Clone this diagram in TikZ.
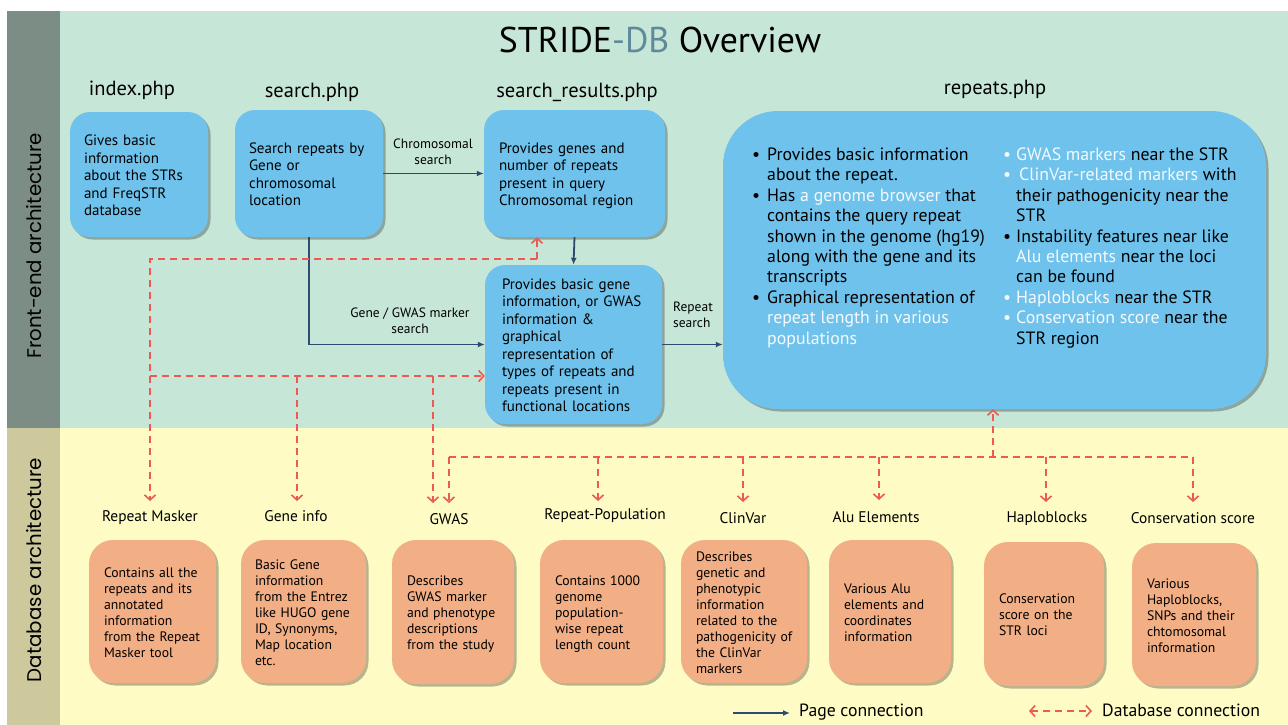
\documentclass[tikz,border=0pt]{standalone}
\usepackage{fontspec}
\setmainfont{PT Sans}
\newfontfamily\sidefont{Poppins}
\usetikzlibrary{arrows.meta,shadows}
\definecolor{bggreen}{HTML}{C6E6D7}
\definecolor{bgyellow}{HTML}{FEFCC4}
\definecolor{sidegreen}{HTML}{7C8D86}
\definecolor{sideyellow}{HTML}{CDC99D}
\definecolor{boxblue}{HTML}{6FC2EC}
\definecolor{boxorange}{HTML}{F2AE84}
\definecolor{navy}{HTML}{2C4B6F}
\definecolor{dbred}{HTML}{EC5A56}
\definecolor{dbcol}{HTML}{5E8A9A}
\definecolor{hl}{HTML}{F4FAFE}
\newcommand\lines[1]{\raisebox{-2.5pt}[\height][\depth]{\begin{tabular}{@{}l@{}}#1\end{tabular}}}
\tikzset{
  shadowed/.style={drop shadow={shadow xshift=2.5pt,shadow yshift=-2.5pt,fill=black,opacity=0.28}},
  bluebox/.style={fill=boxblue, rounded corners=20pt, align=left, inner xsep=14pt, inner ysep=0pt,
     font=\fontsize{15}{17.5}\selectfont, shadowed},
  orangebox/.style={fill=boxorange, rounded corners=24pt, align=left, inner xsep=15pt, inner ysep=0pt,
     font=\fontsize{13.7}{16}\selectfont, shadowed},
  pagehead/.style={font=\fontsize{20.5}{24}\selectfont, inner sep=0pt},
  dbhead/.style={font=\fontsize{15.4}{18}\selectfont, inner sep=0pt},
  conlabel/.style={font=\fontsize{13.5}{15.5}\selectfont, align=center, inner sep=0pt},
  pagearrow/.style={draw=navy, line width=1.8pt, -{Latex[length=7pt,width=6pt]}},
  dbline/.style={draw=dbred, line width=1.6pt, dash pattern=on 7pt off 5pt},
  dbarrow/.style={dbline, -{Straight Barb[length=5pt,width=11pt,line width=1.6pt]}},
  sidelabel/.style={font=\sidefont\fontsize{19.8}{22}\selectfont, rotate=90, inner sep=0pt},
}
\begin{document}
\begin{tikzpicture}[x=1pt,y=-1pt]
\useasboundingbox (0,0) rectangle (1288,725);
\fill[white] (0,0) rectangle (1288,725);
% backgrounds
\fill[bggreen] (60,11) rectangle (1288,428);
\fill[bgyellow] (60,428) rectangle (1288,725);
\fill[sidegreen] (7,11) rectangle (60,428);
\fill[sideyellow] (7,428) rectangle (60,725);
\node[sidelabel] (sfront) at (34,246) {Front-end architecture};
\node[sidelabel] (sdb) at (34,570) {Database architecture};
% title
\node[font=\fontsize{35.8}{40}\selectfont, inner sep=0pt] (title) at (660,40) {STRIDE\textcolor{dbcol}{-DB} Overview};
% page headers
\node[pagehead] (hidx) at (132,90) {index.php};
\node[pagehead] (hsrch) at (312,92) {search.php};
\node[pagehead] (hsr) at (577,92) {search\_results.php};
\node[pagehead] (hrep) at (995,89) {repeats.php};
% blue boxes
\node[bluebox, text width=110pt, minimum height=125pt] (idx) at (139,174.5)
  {\lines{Gives basic\\information\\about the STRs\\and FreqSTR\\database}};
\node[bluebox, text width=120pt, minimum height=127pt] (srch) at (309,173.5)
  {\lines{Search repeats by\\Gene or\\chromosomal\\location}};
\node[bluebox, inner xsep=15pt, text width=151pt, minimum height=127pt] (sr) at (574.5,173.5)
  {\lines{Provides genes and\\number of repeats\\present in query\\Chromosomal region}};
\node[bluebox, inner xsep=17pt, text width=143pt, minimum height=159pt] (gene) at (573.5,344.5)
  {\lines{Provides basic gene\\information, or GWAS\\information \&\\graphical\\representation of\\types of repeats and\\repeats present in\\functional locations}};
\node[bluebox, rounded corners=55pt, minimum width=543pt, minimum height=298pt] (rep) at (994.5,260) {};
\node[anchor=north west, inner sep=0pt, font=\fontsize{17.8}{20.4}\selectfont] (repL) at (752,146)
  {\begin{tabular}{@{}p{15pt}@{}l@{}}
  \textbullet & Provides basic information\\
   & about the repeat.\\
  \textbullet & Has\ \textcolor{hl}{a genome browser} that\\
   & contains the query repeat\\
   & shown in the genome (hg19)\\
   & along with the gene and its\\
   & transcripts\\
  \textbullet & Graphical representation of\\
   & \textcolor{hl}{repeat length in various}\\
   & \textcolor{hl}{populations}
  \end{tabular}};
\node[anchor=north west, inner sep=0pt, font=\fontsize{17.8}{20.4}\selectfont] (repR) at (1003,146)
  {\begin{tabular}{@{}p{13pt}@{}l@{}}
  \textcolor{hl}{\textbullet} & \textcolor{hl}{GWAS markers} near the STR\\
  \textcolor{hl}{\textbullet} & \hspace{3pt}\textcolor{hl}{ClinVar-related markers} with\\
   & their pathogenicity near the\\
   & STR\\
  \textbullet & Instability features near like\\
   & \textcolor{hl}{Alu elements} near the loci\\
   & can be found\\
  \textcolor{hl}{\textbullet} & \textcolor{hl}{Haploblocks} near the STR\\
  \textcolor{hl}{\textbullet} & \textcolor{hl}{Conservation score} near the\\
   & STR region
  \end{tabular}};
% page connections
\draw[pagearrow] (srch.east) -- (sr.west);
\node[conlabel] (lchrom) at (433,152) {Chromosomal\\search};
\draw[pagearrow] (sr.south) -- (gene.north);
\draw[pagearrow] (srch.south) |- (gene.west);
\node[conlabel] (lgene) at (410,321) {Gene / GWAS marker\\search};
\draw[pagearrow] (gene.east) -- (gene.east -| rep.west);
\node[conlabel, align=left] (lrep) at (693,315) {Repeat\\search};
% database labels
\node[dbhead] (drm) at (150,518) {Repeat Masker};
\node[dbhead] (dgi) at (296,516) {Gene info};
\node[dbhead] (dgw) at (449,519) {GWAS};
\node[dbhead] (drp) at (605,516) {Repeat-Population};
\node[dbhead] (dcv) at (743,518) {ClinVar};
\node[dbhead] (dal) at (876,517) {Alu Elements};
\node[dbhead] (dhb) at (1047,519) {Haploblocks};
\node[dbhead] (dcs) at (1193,518) {Conservation score};
% orange boxes
\node[orangebox, text width=97pt, minimum height=143pt] (brm) at (152.5,611.5)
  {\lines{Contains all the\\repeats and its\\annotated\\information\\from the Repeat\\Masker tool}};
\node[orangebox, inner xsep=14pt, text width=97pt, minimum height=143pt] (bgi) at (303.5,611.5)
  {\lines{Basic Gene\\information\\from the Entrez\\like HUGO gene\\ID, Synonyms,\\Map location\\etc.}};
\node[orangebox, text width=92pt, minimum height=144pt] (bgw) at (453,612)
  {\lines{Describes\\GWAS marker\\and phenotype\\descriptions\\from the study}};
\node[orangebox, text width=93pt, minimum height=143pt] (brp) at (601.5,611.5)
  {\lines{Contains 1000\\genome\\population-\\wise repeat\\length count}};
\node[orangebox, text width=96pt, minimum height=143pt] (bcv) at (744,611.5)
  {\lines{Describes\\genetic and\\phenotypic\\information\\related to the\\pathogenicity of\\the ClinVar\\markers}};
\node[orangebox, text width=92pt, minimum height=143pt] (bal) at (890,611.5)
  {\lines{Various Alu\\elements and\\coordinates\\information}};
\node[orangebox, text width=90pt, minimum height=144pt] (bhb) at (1044,614)
  {\lines{Conservation\\score on the\\STR loci}};
\node[orangebox, text width=94pt, minimum height=143pt] (bcs) at (1194,614.5)
  {\lines{Various\\Haploblocks,\\SNPs and their\\chtomosomal\\information}};
% database connections (front pages)
\coordinate (j1) at (150,259);
\coordinate (j2) at (150,376);
\coordinate (r1) at (537,259);
\coordinate (tRM) at (150,501);
\coordinate (g1) at (297,376);
\coordinate (tGI) at (297,501);
\coordinate (g2) at (433,376);
\coordinate (tGW1) at (433,503);
\draw[dbline] (r1) -- (j1) -- (j2);
\draw[dbarrow] (j2) -- (tRM);
\draw[dbarrow] (r1) -- (r1 |- sr.south);
\draw[dbarrow] (j2) -- (j2 -| gene.west);
\draw[dbarrow] (g1) -- (tGI);
\draw[dbarrow] (g2) -- (tGW1);
% database connections (repeats page)
\coordinate (k0) at (993,457);
\coordinate (k1) at (449,457);
\coordinate (k2) at (598,457);
\coordinate (k3) at (743,457);
\coordinate (k4) at (879,457);
\coordinate (k5) at (1046,457);
\coordinate (k6) at (1193,457);
\draw[dbline] (k1) -- (k6);
\draw[dbarrow] (k0) -- (k0 |- rep.south);
\draw[dbarrow] (k1) -- (449,503) coordinate (tGW2);
\draw[dbarrow] (k2) -- (598,501) coordinate (tRP);
\draw[dbarrow] (k3) -- (743,502) coordinate (tCV);
\draw[dbarrow] (k4) -- (879,500) coordinate (tAL);
\draw[dbarrow] (k5) -- (1046,502) coordinate (tHB);
\draw[dbarrow] (k6) -- (1193,502) coordinate (tCS);
% legend
\coordinate (lp1) at (733,713);
\coordinate (lp2) at (790,713);
\draw[pagearrow] (lp1) -- (lp2);
\node[anchor=west, font=\fontsize{17.7}{20}\selectfont, inner sep=0pt] (lpage) at (799,712) {Page connection};
\coordinate (ld1) at (1029,711);
\coordinate (ld2) at (1092,711);
\draw[dbline, {Straight Barb[length=5pt,width=11pt,line width=1.6pt]}-{Straight Barb[length=5pt,width=11pt,line width=1.6pt]}] (ld1) -- (ld2);
\node[anchor=west, font=\fontsize{17.7}{20}\selectfont, inner sep=0pt] (ldb) at (1102,710) {Database connection};
\end{tikzpicture}
\end{document}
